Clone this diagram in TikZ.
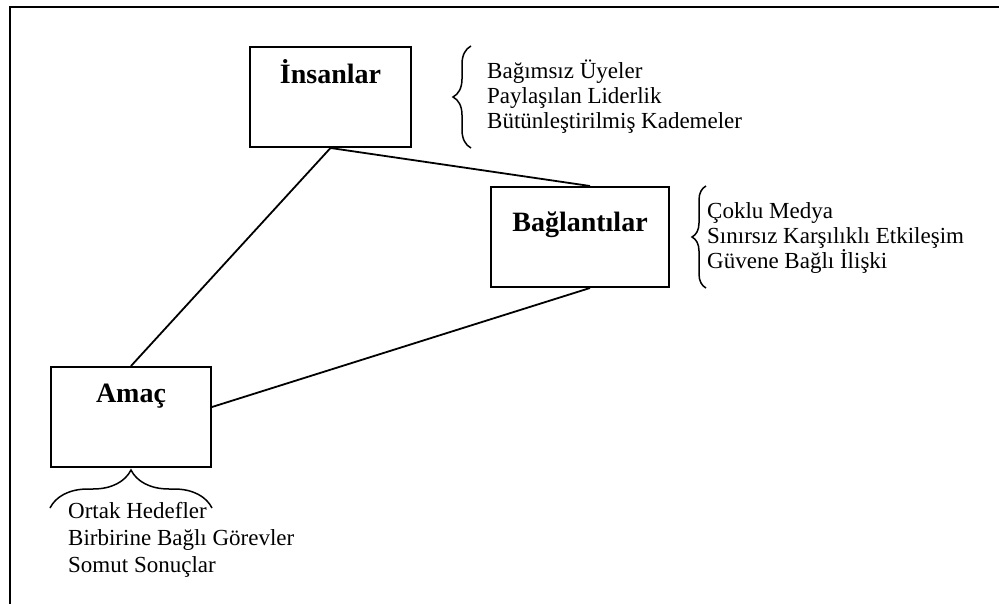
\documentclass[tikz,border=0pt]{standalone}
\usepackage{fontspec}
\setmainfont{Liberation Serif}
\usetikzlibrary{decorations.pathreplacing}

\begin{document}
\begin{tikzpicture}[x=1pt,y=-1pt,
  kutu/.style={draw,line width=2pt,inner sep=5pt,minimum height=100pt,font=\fontsize{28}{30}\selectfont\bfseries},
  liste/.style={align=left,inner sep=0pt,anchor=west,font=\fontsize{23}{25}\selectfont},
  kume/.style={decorate,decoration={brace,amplitude=#1},line width=1.5pt},
  bag/.style={line width=1.8pt}]
  \useasboundingbox (0,0) rectangle (999,604);
  \draw[line width=2.4pt] (10,604) -- (10,7) -- (999,7);
  % kutular
  \node[kutu,minimum width=161pt,text height=32pt,text depth=58pt] (ins) at (330.5,97) {İnsanlar};
  \node[kutu,minimum width=178pt,text height=40pt,text depth=50pt] (bag) at (580,237) {Bağlantılar};
  \node[kutu,minimum width=160pt,text height=30pt,text depth=60pt] (amac) at (131,417) {Amaç};
  % baglantilar
  \draw[bag] (ins.south) -- ([xshift=10pt]bag.north);
  \draw[bag] (ins.south) -- (amac.north);
  \draw[bag] ([xshift=10pt]bag.south) -- ([yshift=10pt]amac.east);
  % listeler
  \node[liste] (insliste) at (487,97) {Bağımsız Üyeler\\Paylaşılan Liderlik\\Bütünleştirilmiş Kademeler};
  \node[liste] (bagliste) at (707,238) {Çoklu Medya\\Sınırsız Karşılıklı Etkileşim\\Güvene Bağlı İlişki};
  \node[liste,font=\fontsize{23}{27}\selectfont] (amacliste) at (68,540) {Ortak Hedefler\\Birbirine Bağlı Görevler\\Somut Sonuçlar};
  \draw[kume=18pt] ([xshift=59pt]ins.south east) -- ([xshift=59pt]ins.north east);
  \draw[kume=14pt] ([xshift=36pt]bag.south east) -- ([xshift=36pt]bag.north east);
  \draw[kume=38pt] ([yshift=-40pt]amac.south west) -- ([yshift=-40pt]amac.south east);
\end{tikzpicture}
\end{document}
